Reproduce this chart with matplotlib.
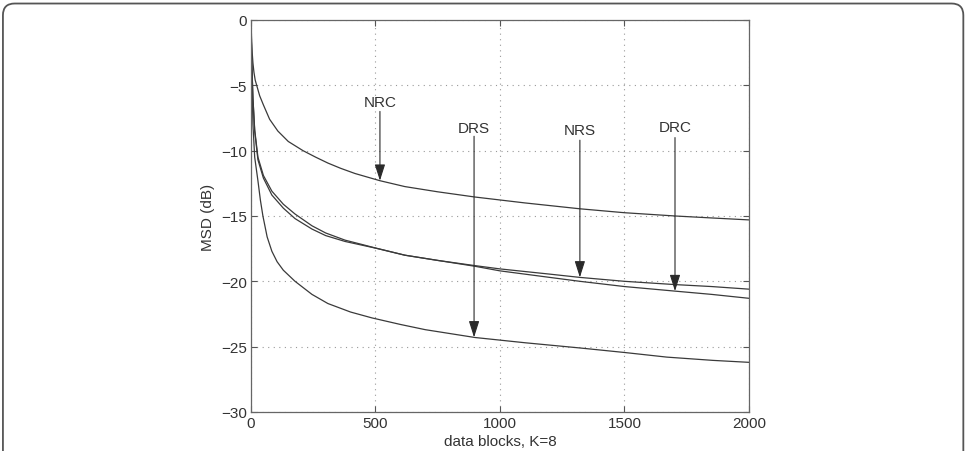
import numpy as np
import matplotlib
matplotlib.use('Agg')
import matplotlib.pyplot as plt
from matplotlib.patches import FancyBboxPatch

plt.rcParams['font.family'] = ['Liberation Sans', 'DejaVu Sans']

# curves (data blocks, MSD in dB)
nrc_x = [0, 2, 5, 8, 12, 17, 23, 35, 50, 75, 108, 150, 209, 260, 309, 360, 418, 518, 618, 750, 900, 1100, 1321, 1500, 1703, 1850, 2000]
nrc_y = [0, -1.2, -2.5, -3.3, -4.0, -4.6, -5.0, -5.8, -6.5, -7.6, -8.5, -9.3, -10.0, -10.5, -10.95, -11.35, -11.75, -12.3, -12.75, -13.15, -13.55, -14.0, -14.45, -14.75, -15.0, -15.15, -15.3]

nrs_x = [0, 3, 8, 15, 28, 50, 84, 130, 177, 245, 300, 378, 450, 510, 618, 750, 900, 1000, 1100, 1200, 1321, 1500, 1703, 1850, 2000]
nrs_y = [0, -3.0, -6.0, -8.5, -10.7, -12.1, -13.4, -14.4, -15.2, -16.0, -16.5, -16.95, -17.25, -17.5, -18.0, -18.4, -18.8, -19.05, -19.25, -19.45, -19.7, -20.0, -20.25, -20.4, -20.6]

drc_x = [0, 3, 8, 15, 28, 50, 84, 130, 177, 245, 300, 378, 450, 510, 618, 750, 900, 1000, 1100, 1200, 1321, 1500, 1703, 1850, 2000]
drc_y = [0, -3.0, -6.0, -8.4, -10.5, -11.9, -13.1, -14.1, -14.85, -15.75, -16.3, -16.85, -17.2, -17.5, -18.0, -18.4, -18.85, -19.2, -19.45, -19.7, -20.0, -20.4, -20.75, -21.0, -21.3]

drs_x = [0, 3, 8, 15, 28, 38, 48, 65, 84, 105, 130, 177, 245, 309, 400, 486, 600, 700, 800, 900, 1100, 1321, 1502, 1670, 1855, 2000]
drs_y = [0, -4.0, -8.0, -10.5, -12.3, -13.8, -15.0, -16.6, -17.7, -18.5, -19.15, -20.0, -21.0, -21.7, -22.35, -22.8, -23.3, -23.7, -24.0, -24.3, -24.7, -25.1, -25.45, -25.8, -26.05, -26.2]

# annotation labels: name, arrow x, text y, arrow start y
labels = ['NRC', 'DRS', 'NRS', 'DRC']
label_x = [518, 896, 1321, 1703]
label_y = [-6.3, -8.3, -8.4, -8.2]
arrow_top = [-7.0, -8.9, -9.2, -9.0]

xticks = [0, 500, 1000, 1500, 2000]
yticks = [0, -5, -10, -15, -20, -25, -30]

fig = plt.figure(figsize=(9.78, 4.52), dpi=100)

# rounded frame round the figure
frame = FancyBboxPatch((0.003, -0.05), 0.982, 1.04, boxstyle='round,pad=0,rounding_size=0.012',
                       transform=fig.transFigure, fill=False, edgecolor='#555555', linewidth=1.3,
                       mutation_aspect=978 / 452)
fig.patches.append(frame)

ax = fig.add_axes([0.2566, 0.0863, 0.5092, 0.8673])

curves = {'NRC': (nrc_x, nrc_y), 'NRS': (nrs_x, nrs_y), 'DRC': (drc_x, drc_y), 'DRS': (drs_x, drs_y)}
for name, (cx, cy) in curves.items():
    ax.plot(cx, cy, color='#3a3a3a', linewidth=0.9)

ax.set_xlim(0, 2000)
ax.set_ylim(-30, 0)
ax.set_xticks(xticks)
ax.set_yticks(yticks)
ax.set_yticklabels([str(t).replace('-', '\u2212') for t in yticks])
ax.grid(True, linestyle=(0, (1, 4)), color='#999999', linewidth=0.8)
ax.tick_params(direction='in', top=True, right=True, length=4, color='#555555',
               labelsize=11, labelcolor='#333333', pad=3)
for s in ax.spines.values():
    s.set_color('#666666')
    s.set_linewidth(0.9)

ax.set_xlabel('data blocks, K=8', fontsize=11, color='#333333', labelpad=3)
ax.set_ylabel('MSD (dB)', fontsize=11, color='#333333', labelpad=4)

for name, lx, ly, ay in zip(labels, label_x, label_y, arrow_top):
    cx, cy = curves[name]
    tip = np.interp(lx, cx, cy)
    ax.text(lx, ly, name, ha='center', va='center', fontsize=11, color='#333333')
    ax.annotate('', xy=(lx, tip), xytext=(lx, ay),
                arrowprops=dict(arrowstyle='-|>,head_length=1.0,head_width=0.32', color='#2a2a2a',
                                linewidth=0.8, shrinkA=0, shrinkB=0))

fig.savefig('out.png', dpi=100)
